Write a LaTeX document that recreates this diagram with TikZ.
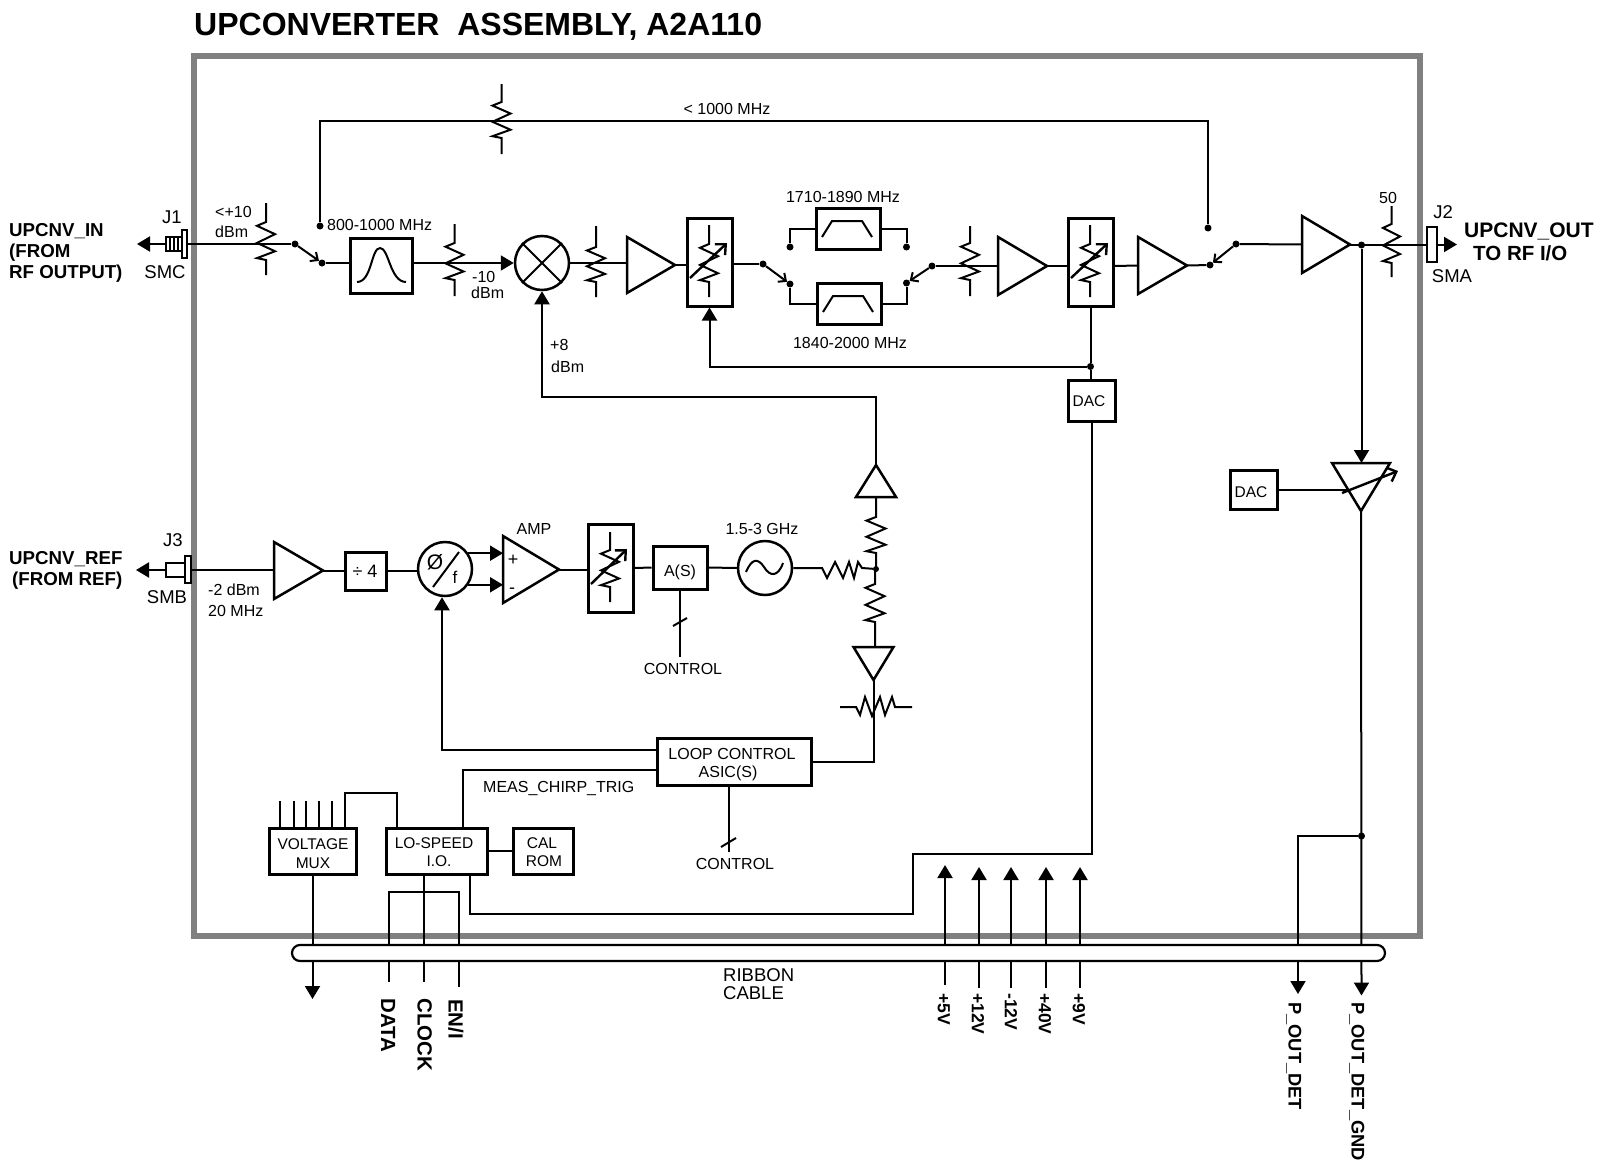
\documentclass[tikz,border=0pt]{standalone}
\usepackage{fontspec}
\setmainfont{Liberation Sans}
\usetikzlibrary{arrows.meta,calc}
\newcommand{\fs}[1]{\fontsize{#1}{#1}\selectfont}
\tikzset{
  wire/.style={line width=2pt},
  atip/.style={line width=2pt,-{Triangle[length=13pt,width=15pt]}},
  barb/.style={line width=2pt,-{Straight Barb[length=6pt,width=11pt]}},
  tune/.style={line width=2.4pt,-{Straight Barb[length=8pt,width=15pt]}},
  bx/.style={draw,line width=3pt,inner sep=0pt,fill=white},
  thinbx/.style={draw,line width=2pt,inner sep=0pt},
  circ/.style={draw,circle,line width=2.5pt,inner sep=0pt,minimum size=54pt},
  jdot/.style={fill=black,circle,inner sep=0pt,minimum size=7pt},
  tri/.style={line width=2.5pt,line join=miter,miter limit=3},
  hold/.style={inner sep=0pt,outer sep=0pt},
  lab/.style={inner sep=0pt,font=\fs{16},text height=11.5pt,text depth=0pt},
  labs/.style={inner sep=0pt,font=\fs{15.5},text height=11pt,text depth=0pt},
  conn/.style={inner sep=0pt,font=\fs{18.5},text height=13.3pt,text depth=0pt},
  rib/.style={inner sep=0pt,font=\fs{18.5},text height=13.3pt,text depth=0pt},
  bl/.style={inner sep=0pt,font=\bfseries\fs{18.7},text height=13.5pt,text depth=0pt},
  br/.style={inner sep=0pt,font=\bfseries\fs{21},text height=15pt,text depth=0pt},
  rl/.style={inner sep=0pt,rotate=-90,anchor=west,font=\bfseries\fs{20.5},text height=14.7pt,text depth=0pt},
  rv/.style={inner sep=0pt,rotate=-90,anchor=west,font=\bfseries\fs{17.5},text height=12.5pt,text depth=0pt},
  rp/.style={inner sep=0pt,rotate=-90,anchor=west,font=\bfseries\fs{18.3},text height=13pt,text depth=0pt},
}
% box: name, cx, cy, w, h
\newcommand{\bxn}[5]{\node[bx,minimum width=#4pt,minimum height=#5pt] (#1) at (#2,#3) {};}
% triangles: name, cx, cy, w, h
\newcommand{\triR}[5]{\node[hold,minimum width=#4pt,minimum height=#5pt] (#1) at (#2,#3) {};
  \draw[tri] (#1.north west) -- (#1.east) -- (#1.south west) -- cycle;}
\newcommand{\triU}[5]{\node[hold,minimum width=#4pt,minimum height=#5pt] (#1) at (#2,#3) {};
  \draw[tri] (#1.south west) -- (#1.north) -- (#1.south east) -- cycle;}
\newcommand{\triD}[5]{\node[hold,minimum width=#4pt,minimum height=#5pt] (#1) at (#2,#3) {};
  \draw[tri] (#1.north west) -- (#1.south) -- (#1.north east) -- cycle;}
% vertical resistor: x, y lead top, y zig top, y zig bottom, y lead bottom, amplitude
\newcommand{\resV}[6]{\draw[wire,line join=miter]
  (#1,#2) -- (#1,#3)
  -- ({#1-#6},{#3+0.10*(#4-#3)})
  -- ({#1+#6},{#3+0.32*(#4-#3)})
  -- ({#1-#6},{#3+0.55*(#4-#3)})
  -- ({#1+#6},{#3+0.77*(#4-#3)})
  -- ({#1-#6},{#3+0.95*(#4-#3)})
  -- (#1,#4) -- (#1,#5);}
\begin{document}
\begin{tikzpicture}[x=1pt,y=-1pt]
\useasboundingbox (0,0) rectangle (1602,1164);
\node[draw=black!50,line width=6pt,inner sep=0pt,minimum width=1226pt,minimum height=880pt] (frame) at (807,496) {};
\node[inner sep=0pt,anchor=west,font=\bfseries\fs{32},text height=23pt,text depth=0pt] (title) at (194,24.5) {UPCONVERTER\ \ ASSEMBLY, A2A110};

% --- upper chain blocks
\node[thinbx,fill=white,minimum width=16pt,minimum height=14pt] (j1box) at (174,244) {};
\node[thinbx,fill=white,minimum width=5pt,minimum height=28pt] (j1fl) at (184.5,244) {};
\foreach \hx in {170,174,178}{\draw[wire] (\hx,237) -- (\hx,251);}
\coordinate (j1out) at (137,244);
\draw[atip] (j1box.west) -- (j1out);
\node[jdot] (sw1a) at (295,244) {};
\node[jdot] (sw1b) at (322,263) {};
\bxn{bpf}{381}{265.5}{62}{55}
\draw[wire] (357,282) .. controls (372,282) and (371,248) .. (380,248) .. controls (389,248) and (390,282) .. (406,282);
\node[circ] (mixer) at (542,263) {};
\draw[wire] (mixer.north west) -- (mixer.south east);
\draw[wire] (mixer.north east) -- (mixer.south west);
\triR{a1}{651}{265}{48}{56}
\bxn{att1}{709.5}{262}{45}{88}
\node[jdot] (sw2a) at (763,264) {};
\node[jdot] (sw2b) at (790,284) {};
\node[jdot] (t1) at (790,247) {};
\node[jdot] (t2) at (906.5,247) {};
\node[jdot] (sw3b) at (906.5,283) {};
\node[jdot] (sw3a) at (932,266) {};
\bxn{f1}{848}{228.5}{64}{41}
\bxn{f2}{849}{303.5}{64}{41}
\draw[wire] (822,237) -- (832,221) -- (862,221) -- (872,237);
\draw[wire] (823,312) -- (833,296) -- (863,296) -- (873,312);
\triR{a2}{1022.5}{266}{49}{58}
\bxn{att2}{1090.5}{262}{45}{88}
\triR{a3}{1162.5}{265.5}{49}{57}
\node[jdot] (sw4b) at (1210,265) {};
\node[jdot] (sw4a) at (1236,244) {};
\triR{a4}{1326}{244.5}{48}{57}
\node[jdot] (jn1) at (1361.5,245) {};
\node[thinbx,minimum width=10pt,minimum height=35pt] (j2box) at (1432,244.5) {};
\coordinate (j2out) at (1457,244.5);
\node[jdot] (t3) at (320,226) {};
\node[jdot] (t4) at (1208,228) {};
\coordinate (tl) at (320,120.7);
\coordinate (tr) at (1208,120.7);
\node[jdot] (jn3) at (1090.5,366.5) {};
\bxn{dac1}{1091.5}{400.5}{47}{41}
\bxn{dac2}{1253.5}{489.5}{47}{39}
\triD{det}{1361}{487}{58}{48}

% --- upper chain wires
\draw[wire] (j1fl.east) -- (sw1a);
\draw[barb] (sw1a) -- (sw1b);
\draw[wire] (sw1b) -- (sw1b -| bpf.west);
\draw[atip] (mixer.west -| bpf.east) -- (mixer.west);
\draw[wire] (mixer.east) -- (mixer.east -| a1.west);
\draw[wire] (a1.east) -- (a1.east -| att1.west);
\draw[wire] (sw2a -| att1.east) -- (sw2a);
\draw[barb] (sw2a) -- (sw2b);
\draw[wire] (sw2b) |- (f2.west);
\draw[wire] (f2.east) -| (sw3b);
\draw[wire] (t1) |- (f1.west);
\draw[wire] (f1.east) -| (t2);
\draw[barb] (sw3a) -- (sw3b);
\draw[wire] (sw3a) -- (a2.west);
\draw[wire] (a2.east) -- (a2.east -| att2.west);
\draw[wire] (a2.east -| att2.east) -- (a3.west);
\draw[wire] (a3.east) -- (sw4b);
\draw[barb] (sw4a) -- (sw4b);
\draw[wire] (sw4a) -- (a4.west);
\draw[wire] (a4.east) -- (a4.east -| j2box.west);
\draw[atip] (j2box.east) -- (j2out);
\draw[wire] (t3) -- (tl) -- (tr) -- (t4);
\draw[wire] (att2.south) -- (jn3) -- (jn3 |- dac1.north);
\draw[atip] (jn3) -| (att1.south);
\draw[atip] (jn1) -- (jn1 |- det.north);

% --- resistors of the upper chain
\resV{501.5}{84}{102}{138}{154}{9}
\resV{266}{203}{222}{260}{275}{9}
\resV{454.5}{224}{243}{280}{296}{9}
\resV{596}{226}{247}{282}{297}{9}
\resV{970}{226}{243}{280}{296}{9}
\resV{1391.5}{206}{224}{263}{277}{8.5}
\resV{709}{225}{244}{282}{297}{9}
\resV{1090}{225}{244}{282}{297}{9}
\draw[tune] (690,278) -- (727,243);
\draw[tune] (1071,278) -- (1108,243);
\coordinate (detl) at (1347,489.5);
\draw[wire] (dac2.east) -- (detl);
\draw[tune] (1342,493) -- (1398,471);

% --- lower chain
\node[thinbx,fill=white,minimum width=19pt,minimum height=14pt] (j3box) at (175.5,570) {};
\node[thinbx,fill=white,minimum width=6pt,minimum height=27pt] (j3fl) at (188,569.5) {};
\coordinate (j3out) at (136,570);
\draw[atip] (j3box.west) -- (j3out);
\triR{a5}{298.5}{570.5}{49}{57}
\bxn{div}{365.5}{571}{41}{38}
\node[circ] (phi) at (445,569) {};
\triR{amp}{531}{569.5}{56}{67}
\bxn{att3}{610.5}{568}{45}{88}
\resV{610}{532}{550}{587}{602}{9}
\draw[tune] (591,584) -- (627,549);
\bxn{as}{680}{567.5}{54}{43}
\node[circ] (vco) at (765,568) {};
\draw[wire] (746,572) .. controls (752,558) and (758,558) .. (764,567) .. controls (770,577) and (778,577) .. (783,563);
\node[jdot,minimum size=6pt] (jn4) at (876,569) {};
\triU{a6}{876}{481}{40}{32}
\triD{a7}{873.5}{663.5}{40}{33}
\coordinate (ps1) at (433,587);
\coordinate (ps2) at (459,552);
\draw[wire] (ps1) -- (ps2);
\draw[wire] (j3fl.east) -- (j3fl.east -| a5.west);
\draw[wire] (a5.east) -- (a5.east -| div.west);
\draw[wire] (div.east) -- (div.east -| phi.west);
\draw[atip] (phi.34) -- (phi.34 -| amp.west);
\draw[atip] (phi.-34) -- (phi.-34 -| amp.west);
\draw[wire] (amp.east) -- (amp.east -| att3.west);
\draw[wire] (att3.east) -- (as.west);
\draw[wire] (as.east) -- (vco.west);
\coordinate (hr0) at (822,568);
\draw[wire,line join=miter] (vco.east) -- (hr0) -- (827,578) -- (835,562) -- (843,578) -- (849,562) -- (854,578) -- (858,562) -- (862,568) -- (jn4);
\resV{876}{497}{517}{553}{569}{9.5}
\resV{875}{569}{584}{622}{647}{9.5}
\coordinate (lo) at (876,397);
\draw[atip] (a6.north) -- (lo) -| (mixer.south);
\coordinate (asc) at (679.5,657);
\draw[wire] (as.south -| asc) -- (asc);
\coordinate (ass1) at (673,626);
\coordinate (ass2) at (687,618);
\draw[wire] (ass1) -- (ass2);

% --- control section
\bxn{loop}{734}{761.5}{154}{47}
\bxn{vmux}{312.5}{851}{87}{46}
\bxn{lsio}{436.5}{851}{101}{46}
\bxn{cal}{543}{851}{60}{46}
\draw[wire,line join=miter] (840,707) -- (856,707) -- (860,715) -- (865,697) -- (872,716) -- (880,697) -- (885,715) -- (892,697) -- (895,707) -- (912,707);
\draw[wire] (loop.east) -| (a7.south);
\coordinate (lp1) at (442,750);
\draw[atip] (lp1 -| loop.west) -- (lp1) -- (lp1 |- phi.south);
\coordinate (lp2) at (463,770);
\draw[wire] (lp2 -| loop.west) -- (lp2) -- (lp2 |- lsio.north);
\coordinate (lc) at (729,852);
\draw[wire] (loop.south -| lc) -- (lc);
\coordinate (lcs1) at (721,847);
\coordinate (lcs2) at (736,838);
\draw[wire] (lcs1) -- (lcs2);
\draw[wire] (lsio.east |- cal.west) -- (cal.west);
\foreach \px in {280,294,306,319,332}{\coordinate (pin\px) at (\px,801); \draw[wire] (pin\px) -- (pin\px |- vmux.north);}
\coordinate (p6) at (345,793);
\coordinate (p7) at (397,793);
\draw[wire] (p6 |- vmux.north) -- (p6) -- (p7) -- (p7 |- lsio.north);
\coordinate (mo) at (312.5,999);
\draw[atip] (vmux.south) -- (mo);
\coordinate (ce) at (424,982);
\draw[wire] (ce |- lsio.south) -- (ce);
\coordinate (dd1) at (389,892);
\coordinate (dd2) at (459,892);
\coordinate (de) at (389,982);
\coordinate (ee) at (459,987);
\draw[wire] (de) -- (dd1) -- (dd2) -- (ee);
\coordinate (cB) at (913,854);
\coordinate (cC) at (470,914);
\draw[wire] (dac1.south) |- (cB) |- (cC) -- (cC |- lsio.south);
\foreach \rx/\ry/\rt in {945/985/865,979/988/867,1011/988/867,1046/988/867,1080/988/867}{
  \coordinate (rb\rx) at (\rx,\ry);
  \coordinate (rt\rx) at (\rx,\rt);
  \draw[atip] (rb\rx) -- (rt\rx);}
\node[jdot] (jn2) at (1361.5,836) {};
\coordinate (pod) at (1298,994);
\coordinate (pdg) at (1361.5,995.5);
\draw[atip] (det.south) -- (pdg);
\draw[atip] (jn2) -| (pod);
\node[draw,line width=2.2pt,fill=white,inner sep=0pt,rounded corners=8pt,minimum width=1093pt,minimum height=16pt] (ribbon) at (838.5,953) {};

% --- texts
\node[conn] (tj1) at (172,217) {J1};
\node[conn] (tsmc) at (165,272) {SMC};
\node[lab,anchor=west] (t10) at (215,212) {<+10};
\node[lab,anchor=west] (t10b) at (215,232) {dBm};
\node[lab,anchor=west] (tm1) at (327,225) {800-1000 MHz};
\node[lab,anchor=west] (tn10) at (472,277) {-10};
\node[lab,anchor=west] (tn10b) at (471,293) {dBm};
\node[lab,anchor=west] (tp8) at (550,345) {+8};
\node[lab,anchor=west] (tp8b) at (551,367) {dBm};
\node[lab] (tm2) at (727,109) {< 1000 MHz};
\node[lab] (tm3) at (843,197) {1710-1890 MHz};
\node[lab] (tm4) at (850,343) {1840-2000 MHz};
\node[lab] (t50) at (1388,198) {50};
\node[conn] (tj2) at (1443,212) {J2};
\node[conn] (tsma) at (1452,276) {SMA};
\node[labs] (tdac1) at (1089,401) {DAC};
\node[labs] (tdac2) at (1251,492) {DAC};
\node[br,anchor=west] (tout) at (1464,230) {UPCNV\_OUT};
\node[br,anchor=west,font=\bfseries\fs{20.5}] (tout2) at (1473,253) {TO RF I/O};
\node[bl,anchor=west] (tin) at (9,230) {UPCNV\_IN};
\node[bl,anchor=west] (tin2) at (9,251) {(FROM};
\node[bl,anchor=west] (tin3) at (9,272) {RF OUTPUT)};
\node[bl,anchor=west] (tref) at (9,558) {UPCNV\_REF};
\node[bl,anchor=west] (tref2) at (12,579) {(FROM REF)};
\node[conn] (tj3) at (173,540) {J3};
\node[conn] (tsmb) at (167,597) {SMB};
\node[lab,anchor=west] (t2d) at (208,590) {-2 dBm};
\node[lab,anchor=west] (t20) at (208,611) {20 MHz};
\node[inner sep=0pt,font=\fs{18},text height=13pt,text depth=0pt] (tdiv) at (365,571) {÷ 4};
\node[inner sep=0pt,font=\fs{21},text height=15pt,text depth=0pt] (tphi) at (435,562) {Ø};
\node[inner sep=0pt,font=\fs{17},text height=12.5pt,text depth=0pt] (tf) at (455,577) {f};
\node[inner sep=0pt,font=\fs{18},text height=13pt,text depth=0pt] (tplus) at (513,559) {+};
\node[inner sep=0pt,font=\fs{18},text height=13pt,text depth=0pt] (tminus) at (512,587) {-};
\node[lab] (tamp) at (534,529) {AMP};
\node[lab] (tas) at (680,571) {A(S)};
\node[lab] (tghz) at (762,529) {1.5-3 GHz};
\node[lab] (tcon) at (683,669) {CONTROL};
\node[lab] (tlc) at (732,754) {LOOP CONTROL};
\node[lab] (tasic) at (728,772) {ASIC(S)};
\node[lab,anchor=west] (tmeas) at (483,787) {MEAS\_CHIRP\_TRIG};
\node[lab] (tcon2) at (735,864) {CONTROL};
\node[labs] (tvol) at (313,844) {VOLTAGE};
\node[labs] (tmux) at (313,863) {MUX};
\node[labs] (tlos) at (434,843) {LO-SPEED};
\node[labs] (tio) at (439,861) {I.O.};
\node[labs] (tcal) at (542,843) {CAL};
\node[labs] (trom) at (544,861) {ROM};
\node[rib,anchor=west] (trib) at (723,975) {RIBBON};
\node[rib,anchor=west] (tcab) at (723,993) {CABLE};
\node[rl] (tdata) at (388.5,998) {DATA};
\node[rl] (tclock) at (425,998) {CLOCK};
\node[rl] (teni) at (456,999) {EN/I};
\node[rv] (t5v) at (944,993) {+5V};
\node[rv] (t12v) at (978,993) {+12V};
\node[rv] (tm12v) at (1011,993) {-12V};
\node[rv] (t40v) at (1045,993) {+40V};
\node[rv] (t9v) at (1079,993) {+9V};
\node[rp] (tpd) at (1295,1002) {P\_OUT\_DET};
\node[rp] (tpdg) at (1358,1002) {P\_OUT\_DET\_GND};
\end{tikzpicture}
\end{document}
